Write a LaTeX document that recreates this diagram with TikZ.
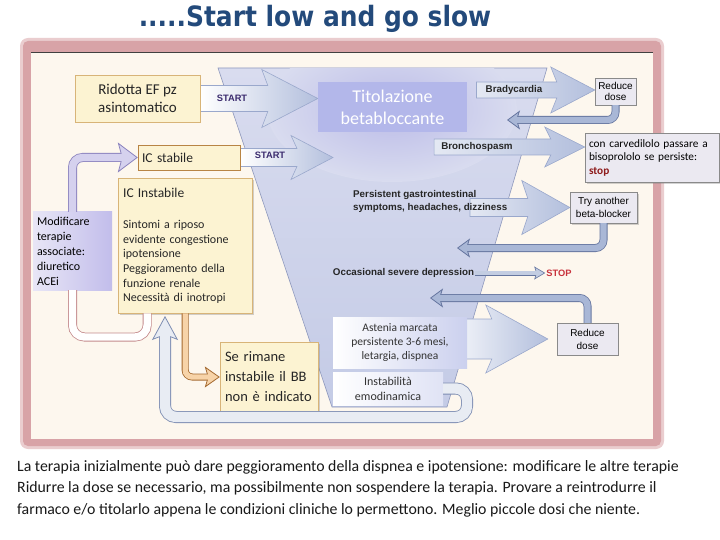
\documentclass[tikz,border=0pt]{standalone}
\usepackage{fontspec}
\setmainfont{Carlito}
\newfontfamily\labelfont{Liberation Sans}
\newfontfamily\titlefont{DejaVu Sans}
\usetikzlibrary{positioning}
\usetikzlibrary{calc}
\usetikzlibrary{shadows}
\usetikzlibrary{arrows.meta}
\newcommand{\setfs}[2]{\fontsize{#1}{#2}\selectfont}
\definecolor{titleblue}{HTML}{234A7B}
\definecolor{cream}{HTML}{FDF7EE}
\definecolor{framepink}{HTML}{D8A3A7}
\definecolor{boxfill}{HTML}{FCF3D2}
\definecolor{boxedge}{HTML}{D8B478}
\definecolor{boxedgedk}{HTML}{B88444}
\definecolor{modleft}{HTML}{E8E6F6}
\definecolor{modright}{HTML}{C2BDEB}
\definecolor{titfill}{HTML}{B3B7EA}
\definecolor{funtop}{HTML}{D9DCEF}
\definecolor{funbot}{HTML}{C4CBE6}
\definecolor{funedge}{HTML}{8E98BC}
\definecolor{funglow}{HTML}{BBBBE8}
\definecolor{astblue}{HTML}{CBD0EE}
\definecolor{gfill}{HTML}{EBE9F1}
\definecolor{gedge}{HTML}{8A8A8A}
\definecolor{startc}{HTML}{3B2B6E}
\definecolor{stopred}{HTML}{C8323C}
\definecolor{stopdk}{HTML}{8E1B1B}
\definecolor{chevblue}{HTML}{B3BFDD}
\definecolor{chevedge}{HTML}{9AA8CC}
\definecolor{retfill}{HTML}{A9B7D6}
\definecolor{retedge}{HTML}{6676A0}
\definecolor{bigfill}{HTML}{E8ECF3}
\definecolor{bigedge}{HTML}{7D8DB2}
\definecolor{pinkedge}{HTML}{C48A8C}
\definecolor{purpfill}{HTML}{D5D1EE}
\definecolor{purpedge}{HTML}{8C84BE}
\definecolor{brownfill}{HTML}{F7D3A8}
\definecolor{brownedge}{HTML}{A4692F}
\pgfdeclarelayer{back}
\pgfdeclarelayer{mid}
\pgfsetlayers{back,mid,main}
\tikzset{
    ybox/.style = {rectangle, draw=boxedge, fill=boxfill, align=left, text=black!85, inner sep=4pt},
    shbox/.style = {drop shadow={shadow xshift=2pt, shadow yshift=-2pt, opacity=0.35}},
    modbox/.style = {rectangle, left color=modleft, right color=modright, align=left, inner sep=4pt},
    titbox/.style = {rectangle, fill=titfill, text=white, align=center},
    gbox/.style = {rectangle, draw=gedge, fill=gfill, align=center, inner sep=1pt, font=\labelfont\setfs{10}{11.5}},
    abox/.style = {rectangle, left color=white, right color=#1, align=center, text=black!80},
    lbl/.style = {font=\labelfont\bfseries\setfs{9.8}{13}, text=black!85, inner sep=1pt},
    startlbl/.style = {font=\labelfont\bfseries\setfs{9.3}{11}, text=startc, inner sep=1pt},
    stoplbl/.style = {font=\labelfont\bfseries\setfs{9.3}{11}, text=stopred, inner sep=1pt},
    chev/.style = {left color=white, right color=chevblue, draw=chevedge, line width=0.6pt},
    chevin/.style = {left color=chevblue!35, right color=chevblue},
    retband/.style = {line width=8pt, draw=retedge, rounded corners=8pt,
        -{Stealth[length=13pt, width=19pt, inset=3pt, line width=0.8pt, fill=retfill]},
        postaction={draw=retfill, line width=6.4pt, -, shorten >=9pt}},
    bigband/.style = {line width=12pt, draw=bigedge, rounded corners=11pt,
        -{Stealth[length=24pt, width=26pt, inset=5pt, line width=0.8pt, fill=bigfill]},
        postaction={draw=bigfill, line width=10.4pt, -, shorten >=18pt}},
    pinkband/.style = {line width=9pt, draw=pinkedge, rounded corners=12pt,
        postaction={draw=white, line width=7.4pt}},
    purpband/.style = {line width=9pt, draw=purpedge, rounded corners=10pt,
        -{Stealth[length=20pt, width=30pt, inset=4pt, line width=0.8pt, fill=purpfill]},
        postaction={draw=purpfill, line width=7.4pt, -, shorten >=15pt}},
    brownband/.style = {line width=7pt, draw=brownedge, rounded corners=7pt,
        -{Stealth[length=15pt, width=21pt, inset=3pt, line width=0.8pt, fill=brownfill]},
        postaction={draw=brownfill, line width=5.4pt, -, shorten >=11pt}},
    thinarr/.style = {line width=5pt, draw=retedge, -{Stealth[length=11pt, width=13pt, inset=2pt, line width=0.6pt, fill=retfill!70]},
        postaction={draw=retfill!70, line width=3.6pt, -, shorten >=8pt}}
}
% big hollow arrow: [style] tail, tip, shaft half, head half, head length
\newcommand{\chevron}[6][]{%
  \path[chev,#1] let \p1=#2, \p2=#3 in
    (\x1,\y2+#4pt) -- (\x2-#6pt,\y2+#4pt) -- (\x2-#6pt-6pt,\y2+#5pt)
    -- (\x2,\y2) -- (\x2-#6pt-6pt,\y2-#5pt) -- (\x2-#6pt,\y2-#4pt)
    -- (\x1,\y2-#4pt) -- cycle;}

\begin{document}
\begin{tikzpicture}[x=1pt,y=-1pt]
\useasboundingbox (0,0) rectangle (720,540);
%
\begin{pgfonlayer}{back}
\fill[white] (0,0) rectangle (720,540);
\fill[framepink!55, rounded corners=8] (20,38) rectangle (664,449);
\fill[framepink, rounded corners=5] (23,41) rectangle (661,446);
\fill[cream] (31,52) rectangle (653,439);
\draw[black!75, line width=0.8pt] (31,52) -- (653,52);
\shade[top color=funtop, bottom color=funbot, draw=funedge, line width=0.6pt]
  (218,68) -- (547,68) -- (447,407) -- (332,407) -- cycle;
\begin{scope}
\clip (218,68) -- (547,68) -- (447,407) -- (332,407) -- cycle;
\shade[inner color=funglow, outer color=funtop] (392,110) ellipse [x radius=125, y radius=72];
\end{scope}
\end{pgfonlayer}
%
\node[font=\titlefont\bfseries\setfs{28}{32}, text=titleblue] at (315,19) (title) {\scalebox{0.89}[1]{.....Start low and go slow}};
%
\node[ybox, minimum width=125, minimum height=47, align=center, font=\setfs{15}{18}] at (137.5,98.5) (rid) {Ridotta EF pz\\asintomatico};
\node[ybox, draw=boxedgedk, minimum width=102, minimum height=25, text width=94, font=\setfs{13.5}{16}] at (189,157.5) (icst) {IC stabile};
\node[ybox, shbox, minimum width=134, minimum height=135, text width=124, anchor=north west, font=\setfs{12}{14.6}] at (118,178) (ici)
  {{\setfs{13.5}{16}IC Instabile}\\[17pt]Sintomi a riposo\\evidente congestione\\ipotensione\\Peggioramento della\\funzione renale\\Necessità di inotropi};
\node[modbox, minimum width=79, minimum height=78, text width=71, font=\setfs{12}{15}] at (72.5,251) (mod) {Modificare\\terapie\\associate:\\diuretico\\ACEi};
\node[ybox, shbox, minimum width=98, minimum height=70, text width=88, font=\setfs{14.5}{20}] at (269,377) (serim) {Se rimane\\instabile il BB\\non è indicato};
\node[titbox, minimum width=149, minimum height=50, font=\setfs{18}{22}] at (392.5,107) (tit) {Titolazione\\betabloccante};
\node[abox=astblue, minimum width=134, minimum height=51, font=\setfs{11.5}{14}] at (400,342.5) (ast) {Astenia marcata\\persistente 3-6 mesi,\\letargia, dispnea};
\node[abox=astblue!60, minimum width=110, minimum height=33, font=\setfs{12}{15}] at (388,388.5) (inst) {Instabilità\\emodinamica};
%
\node[gbox, minimum width=41, minimum height=27] at (615.5,91.5) (red1) {Reduce\\dose};
\node[gbox, shbox, align=left, font=\setfs{11.3}{13.5}, minimum width=134, minimum height=49, text width=126] at (652,157.5) (carv)
  {con carvedilolo passare a\\bisoprololo se persiste:\\\textcolor{stopdk}{\bfseries stop}};
\node[gbox, shbox, minimum width=67, minimum height=31, font=\labelfont\setfs{10}{13}] at (603.5,207.5) (try) {Try another\\beta-blocker};
\node[gbox, minimum width=61, minimum height=32, font=\labelfont\setfs{10}{13}] at (587.5,339) (red2) {Reduce\\dose};
%
\node[lbl] at (514,90) (brady) {Bradycardia};
\node[lbl] at (477,147) (bron) {Bronchospasm};
\node[lbl, align=left, anchor=west] at (352,201.5) (pers) {Persistent gastrointestinal\\symptoms, headaches, dizziness};
\node[lbl] at (403.5,273) (occ) {Occasional severe depression};
\node[startlbl] at (232,98) (st1) {START};
\node[startlbl] at (270,155) (st2) {START};
\node[stoplbl] at (559,273) (stop) {STOP};
%
\coordinate (a2tip) at (333,157.5);
\coordinate (a5tail) at (470,207);
\coordinate (r1tip) at (507,120);
\coordinate (r2tip) at (457,248);
\coordinate (r3tip) at (430,298);
\coordinate (bcorner) at (467,417);
\coordinate (btip) at (165,316);
\coordinate (ploop) at (72.5,337);
%
\begin{pgfonlayer}{mid}
\chevron{(rid.east)}{(tit.west |- rid.east)}{13}{29}{50}
\chevron{(icst.east)}{(a2tip)}{9}{22}{36}
\chevron[chevin]{([xshift=-8pt]brady.west)}{(brady.east -| red1.west)}{8}{23}{38}
\chevron[chevin]{([xshift=-6pt]bron.west)}{(bron.east -| carv.west)}{8}{20}{34}
\chevron[chevin]{(a5tail)}{(try.west)}{9}{27}{42}
\chevron{([xshift=-30pt]ast.east)}{([xshift=-9pt]red2.west)}{20}{34}{56}
\end{pgfonlayer}
%
\draw[retband] (red1.south) |- (r1tip);
\draw[retband] (try.south) |- (r2tip);
\draw[retband] (red2.north) |- (r3tip);
\draw[thinarr] (occ.east) -- (stop.west);
\draw[bigband] (inst.east) -| (bcorner) -| (btip);
\draw[pinkband] ([xshift=-38pt]ici.south) |- (ploop) -- (mod.south);
\draw[purpband] (mod.north) |- (icst.west);
\draw[brownband] (ici.south) |- (serim.west);
%
\node[anchor=north west, align=left, inner sep=0pt, font=\setfs{15.8}{21.8}, text=black!90] at (17,460) (note)
  {La terapia inizialmente può dare peggioramento della dispnea e ipotensione: modificare le altre terapie\\
   Ridurre la dose se necessario, ma possibilmente non sospendere la terapia. Provare a reintrodurre il\\
   farmaco e/o titolarlo appena le condizioni cliniche lo permettono. Meglio piccole dosi che niente.};
\end{tikzpicture}
\end{document}
